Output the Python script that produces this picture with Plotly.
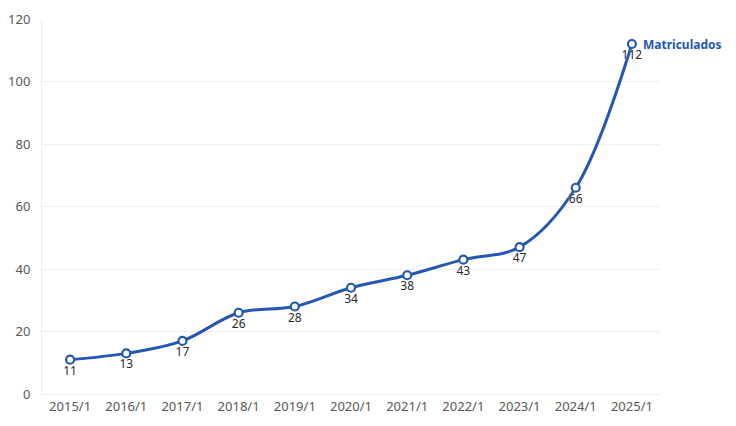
import plotly.graph_objects as go

categories = ["2015/1", "2016/1", "2017/1", "2018/1", "2019/1", "2020/1",
              "2021/1", "2022/1", "2023/1", "2024/1", "2025/1"]
matriculados = [11, 13, 17, 26, 28, 34, 38, 43, 47, 66, 112]
series_name = "Matriculados"
y_ticks = [0, 20, 40, 60, 80, 100, 120]

BLUE = "#2458b3"
FONT = "Noto Sans"

fig = go.Figure()
fig.add_trace(go.Scatter(
    x=categories, y=matriculados, mode="lines+markers+text", name=series_name,
    line=dict(color=BLUE, width=3, shape="spline", smoothing=1),
    marker=dict(symbol="circle", size=8, color="white",
                line=dict(color=BLUE, width=2.2)),
    text=[str(v) for v in matriculados], textposition="bottom center",
    textfont=dict(family=FONT, size=12, color="#2a2a2a",
                  shadow="0px 0px 2px white"),
    showlegend=False, cliponaxis=False,
))

# end-of-line series label (acts as the legend)
fig.add_annotation(
    x=categories[-1], y=matriculados[-1], xref="x", yref="y",
    text="<b>" + series_name + "</b>", showarrow=False,
    xanchor="left", yanchor="middle", xshift=9,
    font=dict(family=FONT, size=12, color=BLUE),
)

fig.update_layout(
    width=728, height=418,
    margin=dict(l=34, r=76, t=11, b=32, autoexpand=False),
    paper_bgcolor="white", plot_bgcolor="white",
    font=dict(family=FONT, size=13, color="#595959"),
    showlegend=False,
    xaxis=dict(type="category", range=[-0.5, 10.5], showgrid=False,
               showline=True, linecolor="#eeeeee", linewidth=1,
               ticks="", tickfont=dict(size=13, color="#595959")),
    yaxis=dict(range=[0, 120], tickvals=y_ticks, showgrid=True,
               gridcolor="#efefef", gridwidth=1, zeroline=False,
               showline=True, linecolor="#eeeeee",
               ticks="", ticklabelstandoff=8,
               tickfont=dict(size=13, color="#595959")),
)

fig.write_html("out.html")
